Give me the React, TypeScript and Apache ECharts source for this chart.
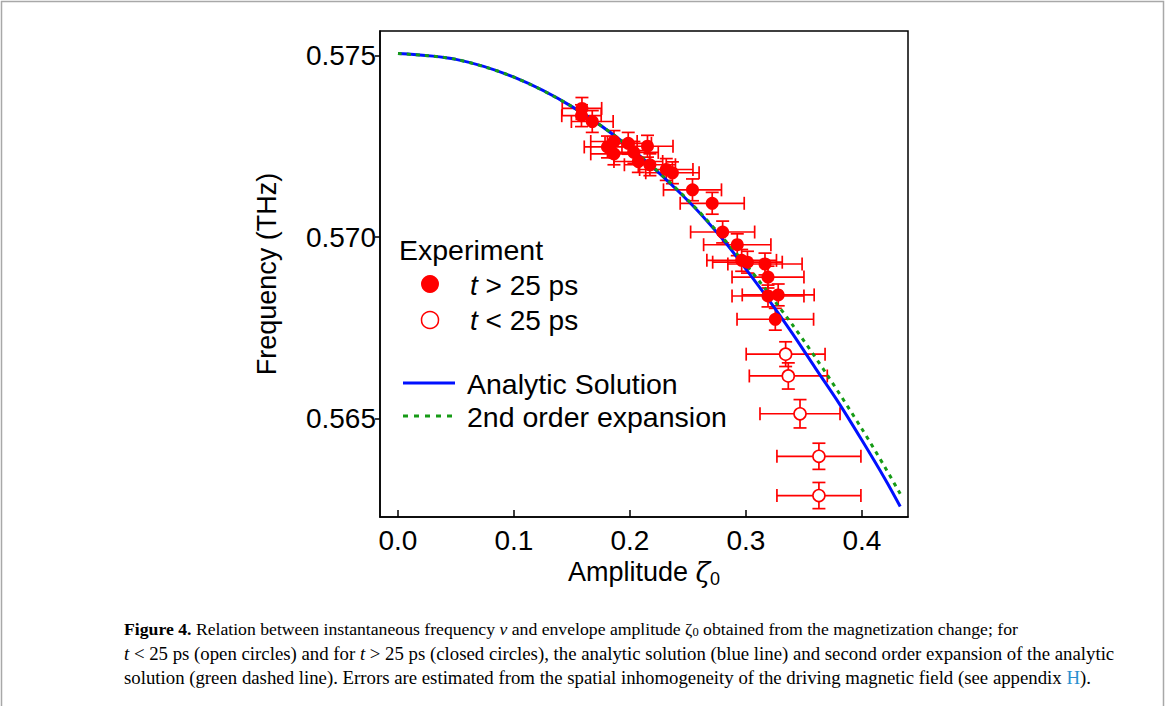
import React, { useEffect, useRef } from "react";
import * as echarts from "echarts";

// Closed circles (t > 25 ps)
const closedX = [0.1586, 0.1582, 0.1675, 0.1806, 0.1862, 0.1862, 0.1985, 0.2034, 0.2072, 0.2151, 0.2172, 0.2313, 0.2366, 0.2539, 0.2709, 0.2799, 0.2925, 0.2963, 0.3013, 0.3164, 0.319, 0.319, 0.3278, 0.3253];
const closedY = [0.57354, 0.57334, 0.57318, 0.57248, 0.57263, 0.57229, 0.57258, 0.57233, 0.57208, 0.5725, 0.57199, 0.57186, 0.57177, 0.5713, 0.57093, 0.57014, 0.56979, 0.56936, 0.56931, 0.56926, 0.5689, 0.56838, 0.56841, 0.56774];
const closedXErr = [0.017, 0.017, 0.018, 0.02, 0.02, 0.02, 0.02, 0.021, 0.021, 0.022, 0.022, 0.023, 0.023, 0.025, 0.0276, 0.0276, 0.029, 0.03, 0.03, 0.032, 0.031, 0.031, 0.031, 0.033];
const closedYErr = [0.0003, 0.0003, 0.0003, 0.0003, 0.0003, 0.0003, 0.0003, 0.0003, 0.0003, 0.0003, 0.0003, 0.0003, 0.0003, 0.0003, 0.0003, 0.0003, 0.0003, 0.0003, 0.0003, 0.0003, 0.0003, 0.0003, 0.0003, 0.0003];

// Open circles (t < 25 ps)
const openX = [0.3342, 0.3365, 0.3466, 0.3629, 0.3629];
const openY = [0.56678, 0.56618, 0.56514, 0.56397, 0.56289];
const openXErr = [0.034, 0.0336, 0.0345, 0.0362, 0.0362];
const openYErr = [0.00034, 0.00036, 0.00039, 0.00036, 0.00036];

// Analytic solution (blue)
const analyticX = [0, 0.05, 0.1, 0.15, 0.2, 0.25, 0.28, 0.3, 0.32, 0.34, 0.36, 0.38, 0.4, 0.42, 0.433];
const analyticY = [0.57505, 0.57489, 0.5744, 0.57359, 0.57246, 0.571, 0.56994, 0.56912, 0.56826, 0.56735, 0.56639, 0.56544, 0.56441, 0.56334, 0.56259];

// 2nd order expansion (green dashed)
const expansionX = [0, 0.05, 0.1, 0.15, 0.2, 0.25, 0.3, 0.34, 0.37, 0.4, 0.42, 0.433];
const expansionY = [0.57505, 0.57489, 0.5744, 0.57359, 0.57247, 0.57102, 0.56924, 0.56759, 0.56621, 0.56472, 0.56366, 0.56294];

const xTicks = [0, 0.1, 0.2, 0.3, 0.4];
const yTicks = [0.565, 0.57, 0.575];

const RED = "#ff0000";
const SANS = "Liberation Sans, Arial, sans-serif";
const SERIF = "Liberation Serif, DejaVu Serif, serif";

function errRender(params: any, api: any) {
  const x = api.value(0);
  const y = api.value(1);
  const xe = api.value(2);
  const ye = api.value(3);
  const l = api.coord([x - xe, y]);
  const r = api.coord([x + xe, y]);
  const t = api.coord([x, y + ye]);
  const b = api.coord([x, y - ye]);
  const c = 6.5;
  const style = { stroke: RED, lineWidth: 1.7 };
  const ln = (x1: number, y1: number, x2: number, y2: number) => ({
    type: "line",
    shape: { x1, y1, x2, y2 },
    style,
  });
  return {
    type: "group",
    children: [
      ln(l[0], l[1], r[0], r[1]),
      ln(l[0], l[1] - c, l[0], l[1] + c),
      ln(r[0], r[1] - c, r[0], r[1] + c),
      ln(t[0], t[1], b[0], b[1]),
      ln(t[0] - c, t[1], t[0] + c, t[1]),
      ln(b[0] - c, b[1], b[0] + c, b[1]),
    ],
  };
}

export default function App() {
  const ref = useRef<HTMLDivElement>(null);
  useEffect(() => {
    if (!ref.current) return;
    const chart = echarts.init(ref.current, undefined, { renderer: "svg" });
    const closedErr = closedX.map((x, i) => [x, closedY[i], closedXErr[i], closedYErr[i]]);
    const openErr = openX.map((x, i) => [x, openY[i], openXErr[i], openYErr[i]]);
    const option: any = {
      animation: false,
      backgroundColor: "#ffffff",
      grid: {
        left: 380,
        top: 31,
        right: 258,
        bottom: 189,
        show: true,
        borderColor: "#000",
        borderWidth: 1.5,
        backgroundColor: "transparent",
      },
      xAxis: {
        type: "value",
        min: -0.0155,
        max: 0.4397,
        name: "Amplitude {z|ζ}{s|0}",
        nameLocation: "middle",
        nameGap: 37,
        nameTextStyle: {
          fontFamily: SANS,
          fontSize: 27,
          color: "#000",
          rich: {
            z: { fontFamily: "DejaVu Serif, serif", fontStyle: "italic", fontSize: 27, color: "#000" },
            s: { fontFamily: SANS, fontSize: 18, color: "#000", padding: [14, 0, 0, 0] },
          },
        },
        axisLine: { show: true, onZero: false, lineStyle: { color: "#000", width: 1.5 } },
        axisTick: { show: true, inside: true, length: 7, customValues: xTicks, lineStyle: { color: "#000", width: 1.5 } },
        axisLabel: {
          customValues: xTicks,
          formatter: (v: number) => v.toFixed(1),
          fontFamily: SANS,
          fontSize: 28,
          color: "#000",
          margin: 9,
        },
        splitLine: { show: false },
      },
      yAxis: {
        type: "value",
        min: 0.5623,
        max: 0.57567,
        name: "Frequency (THz)",
        nameLocation: "middle",
        nameGap: 100,
        nameRotate: 90,
        nameTextStyle: { fontFamily: SANS, fontSize: 27, color: "#000" },
        axisLine: { show: true, onZero: false, lineStyle: { color: "#000", width: 1.5 } },
        axisTick: { show: true, inside: false, length: 5, customValues: yTicks, lineStyle: { color: "#000", width: 1.5 } },
        axisLabel: {
          customValues: yTicks,
          formatter: (v: number) => v.toFixed(3),
          fontFamily: SANS,
          fontSize: 28,
          color: "#000",
          margin: 4,
        },
        splitLine: { show: false },
      },
      series: [
        {
          type: "custom",
          name: "errClosed",
          renderItem: errRender,
          data: closedErr,
          encode: { x: 0, y: 1 },
          z: 1,
        },
        {
          type: "custom",
          name: "errOpen",
          renderItem: errRender,
          data: openErr,
          encode: { x: 0, y: 1 },
          z: 1,
        },
        {
          type: "line",
          name: "Analytic Solution",
          data: analyticX.map((x, i) => [x, analyticY[i]]),
          showSymbol: false,
          symbol: "none",
          smooth: 0.3,
          lineStyle: { color: "#0010ff", width: 3 },
          z: 2,
        },
        {
          type: "line",
          name: "2nd order expansion",
          data: expansionX.map((x, i) => [x, expansionY[i]]),
          showSymbol: false,
          symbol: "none",
          smooth: 0.3,
          lineStyle: { color: "#169b16", width: 3, type: [4, 5] },
          z: 3,
        },
        {
          type: "scatter",
          name: "t > 25 ps",
          data: closedX.map((x, i) => [x, closedY[i]]),
          symbol: "circle",
          symbolSize: 13,
          itemStyle: { color: RED, opacity: 1 },
          z: 4,
        },
        {
          type: "scatter",
          name: "t < 25 ps",
          data: openX.map((x, i) => [x, openY[i]]),
          symbol: "circle",
          symbolSize: 12,
          itemStyle: { color: "#fff", borderColor: RED, borderWidth: 1.6, opacity: 1 },
          z: 4,
        },
      ],
      graphic: [
        {
          type: "rect",
          shape: { x: 1.5, y: 1.5, width: 1162, height: 760 },
          style: { fill: "none", stroke: "#a8a8a8", lineWidth: 1.5 },
          silent: true,
        },
        {
          type: "text",
          x: 399,
          y: 250,
          style: { text: "Experiment", font: `28.5px ${SANS}`, fill: "#000", textVerticalAlign: "middle" },
        },
        { type: "circle", shape: { cx: 430, cy: 284, r: 9 }, style: { fill: RED } },
        {
          type: "text",
          x: 470,
          y: 285,
          style: {
            text: "{i|t} > 25 ps",
            font: `28px ${SANS}`,
            fill: "#000",
            textVerticalAlign: "middle",
            rich: { i: { fontStyle: "italic", fontFamily: SANS, fontSize: 28 } },
          },
        },
        { type: "circle", shape: { cx: 430, cy: 320, r: 8.5 }, style: { fill: "#fff", stroke: RED, lineWidth: 1.5 } },
        {
          type: "text",
          x: 470,
          y: 320,
          style: {
            text: "{i|t} < 25 ps",
            font: `28px ${SANS}`,
            fill: "#000",
            textVerticalAlign: "middle",
            rich: { i: { fontStyle: "italic", fontFamily: SANS, fontSize: 28 } },
          },
        },
        { type: "line", shape: { x1: 403, y1: 383, x2: 455, y2: 383 }, style: { stroke: "#0010ff", lineWidth: 3 } },
        {
          type: "text",
          x: 467,
          y: 384,
          style: { text: "Analytic Solution", font: `28.5px ${SANS}`, fill: "#000", textVerticalAlign: "middle" },
        },
        {
          type: "line",
          shape: { x1: 403, y1: 416, x2: 455, y2: 416 },
          style: { stroke: "#169b16", lineWidth: 3, lineDash: [5, 6] },
        },
        {
          type: "text",
          x: 467,
          y: 417,
          style: { text: "2nd order expansion", font: `28.5px ${SANS}`, fill: "#000", textVerticalAlign: "middle" },
        },
        {
          type: "text",
          x: 124,
          y: 629,
          style: {
            text: "{b|Figure 4.} Relation between instantaneous frequency {i|ν} and envelope amplitude ζ{s|0} obtained from the magnetization change; for",
            font: `17.7px ${SERIF}`,
            fill: "#000",
            textVerticalAlign: "middle",
            rich: {
              b: { fontWeight: "bold", fontFamily: SERIF, fontSize: 17.7 },
              i: { fontStyle: "italic", fontFamily: SERIF, fontSize: 17.7 },
              s: { fontFamily: SERIF, fontSize: 12.5, padding: [6, 0, 0, 0] },
            },
          },
        },
        {
          type: "text",
          x: 124,
          y: 653,
          style: {
            text: "{i|t} < 25 ps (open circles) and for {i|t} > 25 ps (closed circles), the analytic solution (blue line) and second order expansion of the analytic",
            font: `18.8px ${SERIF}`,
            fill: "#000",
            textVerticalAlign: "middle",
            rich: { i: { fontStyle: "italic", fontFamily: SERIF, fontSize: 18.8 } },
          },
        },
        {
          type: "text",
          x: 124,
          y: 677,
          style: {
            text: "solution (green dashed line). Errors are estimated from the spatial inhomogeneity of the driving magnetic field (see appendix {h|H}).",
            font: `18.8px ${SERIF}`,
            fill: "#000",
            textVerticalAlign: "middle",
            rich: { h: { fill: "#2a8fcf", fontFamily: SERIF, fontSize: 18.8 } },
          },
        },
      ],
    };
    chart.setOption(option);
    return () => chart.dispose();
  }, []);
  return (
    <div
      ref={ref}
      style={{ position: "fixed", left: 0, top: 0, width: 1166, height: 706, background: "#fff" }}
    />
  );
}
